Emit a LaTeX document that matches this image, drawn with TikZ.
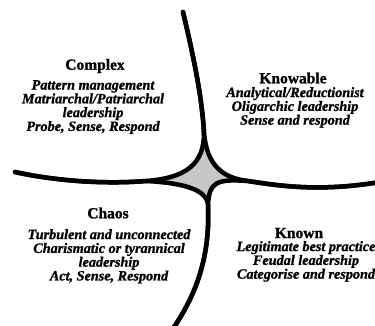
\documentclass[tikz,border=0pt]{standalone}
\usepackage{fontspec}
\newfontfamily\lblfont[FakeBold=1.2]{Liberation Serif}
\begin{document}
\begin{tikzpicture}[x=1pt,y=-1pt,
  boundary/.style={line width=4.5pt, line cap=round, line join=round},
  hub/.style={fill=black!22},
  domtitle/.style={font={\lblfont\bfseries\fontsize{15.5}{15.5}\selectfont}, inner sep=0pt},
  domtext/.style={font={\lblfont\bfseries\itshape\fontsize{14.2}{13.8}\selectfont}, align=center, inner sep=0pt}]
\useasboundingbox (0,0) rectangle (375,325);

% meeting points of the four boundaries around the central hub
\coordinate (T) at (204,133);
\coordinate (L) at (146,181);
\coordinate (R) at (248,181);
\coordinate (B) at (208,205);
\coordinate (topEnd) at (183,12);
\coordinate (leftEnd) at (15,172);
\coordinate (rightEnd) at (380,182);
\coordinate (botEnd) at (172,330);

% shaded hub between the domains
\fill[hub] (T) .. controls (207,165) and (222,178) .. (R)
  .. controls (218,179) and (209,181) .. (B)
  .. controls (207,190) and (185,183) .. (L)
  .. controls (185,178) and (204,165) .. (T) -- cycle;

% Complex boundary
\draw[boundary] (topEnd) .. controls (192,50) and (202,95) .. (T)
  .. controls (204,165) and (185,178) .. (L)
  .. controls (110,184) and (60,182) .. (leftEnd);
% Knowable boundary
\draw[boundary] (topEnd) .. controls (192,50) and (202,95) .. (T)
  .. controls (207,165) and (222,178) .. (R)
  .. controls (280,186) and (320,192) .. (rightEnd);
% Chaos boundary
\draw[boundary] (leftEnd) .. controls (60,182) and (110,184) .. (L)
  .. controls (185,183) and (207,190) .. (B)
  .. controls (210,250) and (200,290) .. (botEnd);
% Known boundary
\draw[boundary] (rightEnd) .. controls (320,192) and (280,186) .. (R)
  .. controls (218,179) and (209,181) .. (B)
  .. controls (210,250) and (200,290) .. (botEnd);

% domain labels
\node[domtitle] (complexT) at (95,66) {Complex};
\node[domtext, anchor=north] (complexB) at (93,80)
  {Pattern management\\Matriarchal/Patriarchal\\leadership\\Probe, Sense, Respond};

\node[domtitle] (knowableT) at (293,78) {Knowable};
\node[domtext, anchor=north] (knowableB) at (295,87)
  {Analytical/Reductionist\\Oligarchic leadership\\Sense and respond};

\node[domtitle] (chaosT) at (108,213) {Chaos};
\node[domtext, anchor=north] (chaosB) at (109,229)
  {Turbulent and unconnected\\Charismatic or tyrannical\\leadership\\Act, Sense, Respond};

\node[domtitle] (knownT) at (299,233) {Known};
\node[domtext, anchor=north] (knownB) at (306,241)
  {Legitimate best practice\\Feudal leadership\\Categorise and respond};
\end{tikzpicture}
\end{document}
